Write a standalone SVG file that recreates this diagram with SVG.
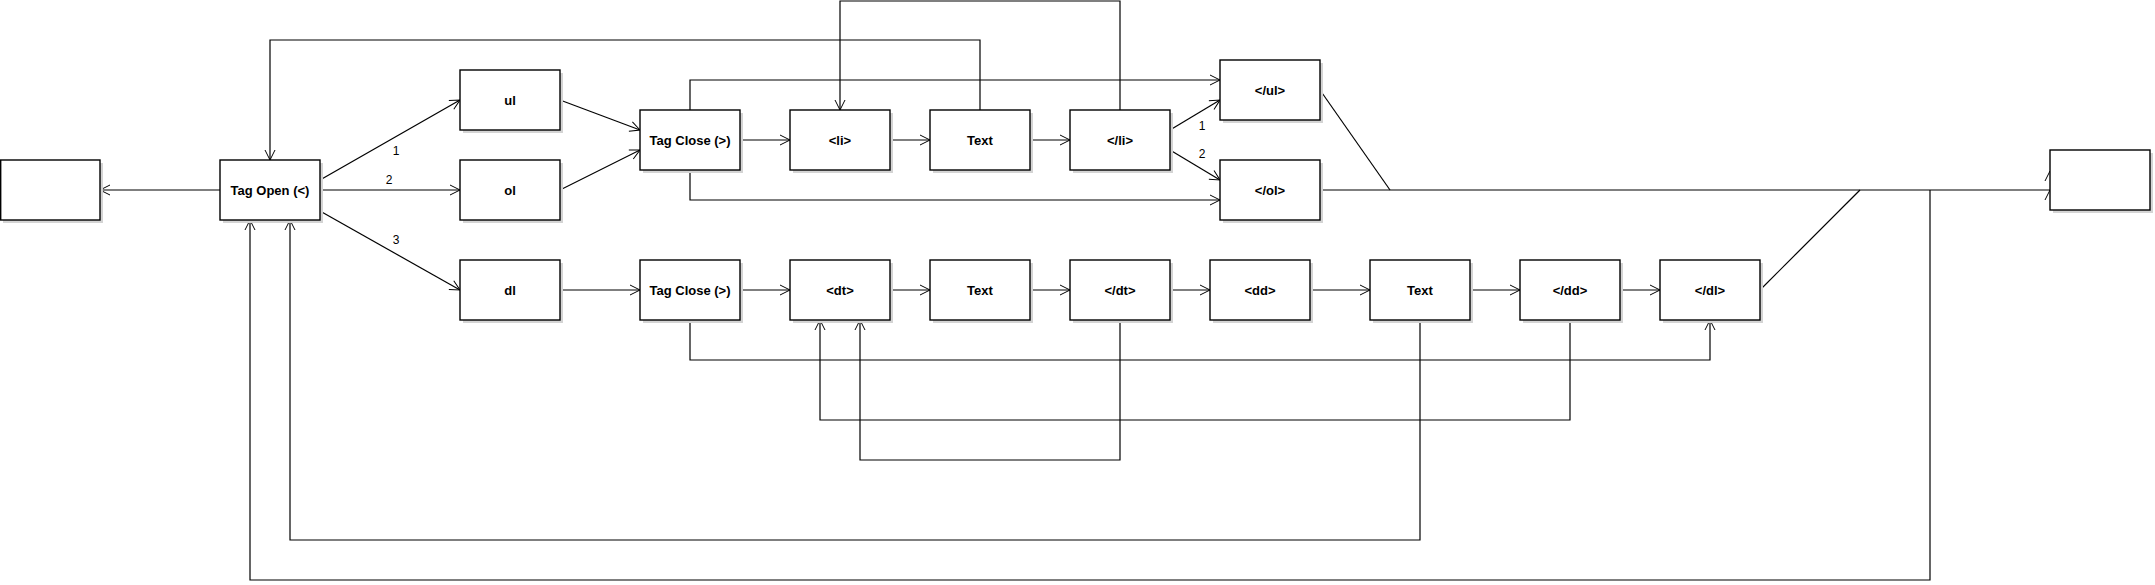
<svg xmlns="http://www.w3.org/2000/svg" width="2155" height="585" viewBox="0 0 2155 585">
<style>
.sh{fill:#d4d4d4;stroke:none}
.bx{fill:#ffffff;stroke:#000000;stroke-width:1.4}
.t{font-family:"Liberation Sans",Arial,sans-serif;font-size:13px;font-weight:bold;text-anchor:middle;fill:#000}
.lb{font-family:"Liberation Sans",Arial,sans-serif;font-size:12px;text-anchor:middle;fill:#000}
.c{fill:none;stroke:#000;stroke-width:1.2}
.ah{fill:none;stroke:#000;stroke-width:1}
</style>
<defs>
<marker id="arr" markerWidth="12" markerHeight="12" refX="11" refY="6" orient="auto" markerUnits="userSpaceOnUse">
<path d="M1,1 L11,6 L1,11" fill="none" stroke="#000" stroke-width="1"/>
</marker>
</defs>
<rect width="2155" height="585" fill="#ffffff"/>
<g id="connectors">
<path class="c" d="M220,190 L100,190" marker-end="url(#arr)"/>
<path class="c" d="M320,180 L460,100" marker-end="url(#arr)"/>
<path class="c" d="M320,190 L460,190" marker-end="url(#arr)"/>
<path class="c" d="M320,211 L460,290" marker-end="url(#arr)"/>
<path class="c" d="M560,100 L640,130" marker-end="url(#arr)"/>
<path class="c" d="M560,190 L640,150" marker-end="url(#arr)"/>
<path class="c" d="M740,140 L790,140" marker-end="url(#arr)"/>
<path class="c" d="M890,140 L930,140" marker-end="url(#arr)"/>
<path class="c" d="M1030,140 L1070,140" marker-end="url(#arr)"/>
<path class="c" d="M1170,130 L1220,100" marker-end="url(#arr)"/>
<path class="c" d="M1170,150 L1220,180" marker-end="url(#arr)"/>
<path class="c" d="M690,110 L690,80 L1220,80" marker-end="url(#arr)"/>
<path class="c" d="M690,170 L690,200 L1220,200" marker-end="url(#arr)"/>
<path class="c" d="M980,110 L980,40 L270,40 L270,160" marker-end="url(#arr)"/>
<path class="c" d="M1120,110 L1120,1 L840,1 L840,110" marker-end="url(#arr)"/>
<path class="c" d="M1320,190 L2050,190"/>
<path class="c" d="M1320,90 L1390,190"/>
<path class="c" d="M1760,290 L1860,190"/>
<path class="c" d="M1930,190 L1930,580 L250,580 L250,220" marker-end="url(#arr)"/>
<path class="c" d="M560,290 L640,290" marker-end="url(#arr)"/>
<path class="c" d="M740,290 L790,290" marker-end="url(#arr)"/>
<path class="c" d="M890,290 L930,290" marker-end="url(#arr)"/>
<path class="c" d="M1030,290 L1070,290" marker-end="url(#arr)"/>
<path class="c" d="M1170,290 L1210,290" marker-end="url(#arr)"/>
<path class="c" d="M1310,290 L1370,290" marker-end="url(#arr)"/>
<path class="c" d="M1470,290 L1520,290" marker-end="url(#arr)"/>
<path class="c" d="M1620,290 L1660,290" marker-end="url(#arr)"/>
<path class="c" d="M690,320 L690,360 L1710,360 L1710,320" marker-end="url(#arr)"/>
<path class="c" d="M1570,320 L1570,420 L820,420 L820,320" marker-end="url(#arr)"/>
<path class="c" d="M1120,320 L1120,460 L860,460 L860,320" marker-end="url(#arr)"/>
<path class="c" d="M1420,320 L1420,540 L290,540 L290,220" marker-end="url(#arr)"/>
<path class="ah" d="M2045,181 L2050,171 L2055,181"/>
<path class="ah" d="M2045,200 L2050,190 L2055,200"/>
<text class="lb" x="396" y="155">1</text>
<text class="lb" x="389" y="184">2</text>
<text class="lb" x="396" y="244">3</text>
<text class="lb" x="1202" y="130">1</text>
<text class="lb" x="1202" y="158">2</text>
</g>
<g id="n_start"><rect class="sh" x="3" y="163" width="100" height="60"/><rect class="bx" x="0.7" y="160" width="99.3" height="60"/></g>
<g id="n_tagopen"><rect class="sh" x="223" y="163" width="100" height="60"/><rect class="bx" x="220" y="160" width="100" height="60"/><text class="t" x="270" y="195">Tag Open (&lt;)</text></g>
<g id="n_ul"><rect class="sh" x="463" y="73" width="100" height="60"/><rect class="bx" x="460" y="70" width="100" height="60"/><text class="t" x="510" y="105">ul</text></g>
<g id="n_ol"><rect class="sh" x="463" y="163" width="100" height="60"/><rect class="bx" x="460" y="160" width="100" height="60"/><text class="t" x="510" y="195">ol</text></g>
<g id="n_dl"><rect class="sh" x="463" y="263" width="100" height="60"/><rect class="bx" x="460" y="260" width="100" height="60"/><text class="t" x="510" y="295">dl</text></g>
<g id="n_tagclose1"><rect class="sh" x="643" y="113" width="100" height="60"/><rect class="bx" x="640" y="110" width="100" height="60"/><text class="t" x="690" y="145">Tag Close (&gt;)</text></g>
<g id="n_li"><rect class="sh" x="793" y="113" width="100" height="60"/><rect class="bx" x="790" y="110" width="100" height="60"/><text class="t" x="840" y="145">&lt;li&gt;</text></g>
<g id="n_text1"><rect class="sh" x="933" y="113" width="100" height="60"/><rect class="bx" x="930" y="110" width="100" height="60"/><text class="t" x="980" y="145">Text</text></g>
<g id="n_eli"><rect class="sh" x="1073" y="113" width="100" height="60"/><rect class="bx" x="1070" y="110" width="100" height="60"/><text class="t" x="1120" y="145">&lt;/li&gt;</text></g>
<g id="n_eul"><rect class="sh" x="1223" y="63" width="100" height="60"/><rect class="bx" x="1220" y="60" width="100" height="60"/><text class="t" x="1270" y="95">&lt;/ul&gt;</text></g>
<g id="n_eol"><rect class="sh" x="1223" y="163" width="100" height="60"/><rect class="bx" x="1220" y="160" width="100" height="60"/><text class="t" x="1270" y="195">&lt;/ol&gt;</text></g>
<g id="n_tagclose2"><rect class="sh" x="643" y="263" width="100" height="60"/><rect class="bx" x="640" y="260" width="100" height="60"/><text class="t" x="690" y="295">Tag Close (&gt;)</text></g>
<g id="n_dt"><rect class="sh" x="793" y="263" width="100" height="60"/><rect class="bx" x="790" y="260" width="100" height="60"/><text class="t" x="840" y="295">&lt;dt&gt;</text></g>
<g id="n_text2"><rect class="sh" x="933" y="263" width="100" height="60"/><rect class="bx" x="930" y="260" width="100" height="60"/><text class="t" x="980" y="295">Text</text></g>
<g id="n_edt"><rect class="sh" x="1073" y="263" width="100" height="60"/><rect class="bx" x="1070" y="260" width="100" height="60"/><text class="t" x="1120" y="295">&lt;/dt&gt;</text></g>
<g id="n_dd"><rect class="sh" x="1213" y="263" width="100" height="60"/><rect class="bx" x="1210" y="260" width="100" height="60"/><text class="t" x="1260" y="295">&lt;dd&gt;</text></g>
<g id="n_text3"><rect class="sh" x="1373" y="263" width="100" height="60"/><rect class="bx" x="1370" y="260" width="100" height="60"/><text class="t" x="1420" y="295">Text</text></g>
<g id="n_edd"><rect class="sh" x="1523" y="263" width="100" height="60"/><rect class="bx" x="1520" y="260" width="100" height="60"/><text class="t" x="1570" y="295">&lt;/dd&gt;</text></g>
<g id="n_edl"><rect class="sh" x="1663" y="263" width="100" height="60"/><rect class="bx" x="1660" y="260" width="100" height="60"/><text class="t" x="1710" y="295">&lt;/dl&gt;</text></g>
<g id="n_end"><rect class="sh" x="2053" y="153" width="100" height="60"/><rect class="bx" x="2050" y="150" width="100" height="60"/></g>
</svg>
